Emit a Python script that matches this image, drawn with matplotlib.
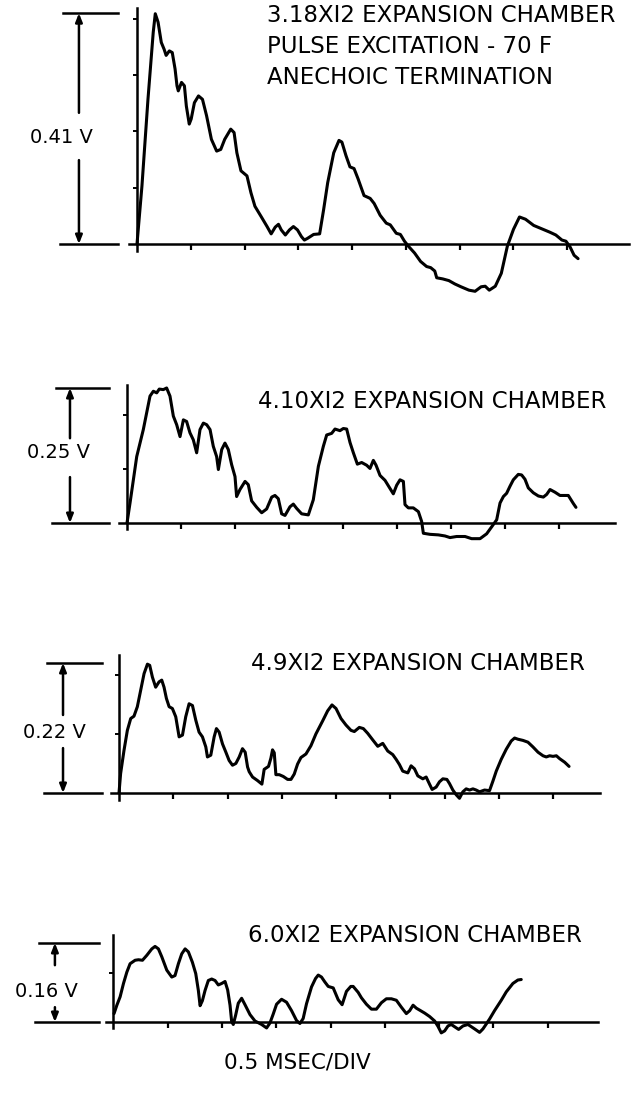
import matplotlib
matplotlib.use("Agg")
import matplotlib.pyplot as plt

# ---------------- data (time in ms, signal in V) ----------------
p1_t = [0.000, 0.046, 0.102, 0.151, 0.170, 0.196, 0.226, 0.252, 0.271, 0.301, 0.328, 0.354, 0.372, 0.384,
        0.414, 0.441, 0.459, 0.486, 0.504, 0.534, 0.572, 0.609, 0.647, 0.692, 0.741, 0.779, 0.816, 0.872,
        0.903, 0.929, 0.967, 1.023, 1.060, 1.097, 1.154, 1.210, 1.248, 1.286, 1.316, 1.342, 1.380, 1.418,
        1.455, 1.493, 1.530, 1.557, 1.586, 1.643, 1.699, 1.736, 1.774, 1.830, 1.879, 1.906, 1.944, 1.981,
        2.019, 2.056, 2.112, 2.169, 2.206, 2.262, 2.319, 2.356, 2.412, 2.450, 2.488, 2.525, 2.582, 2.638,
        2.694, 2.732, 2.770, 2.788, 2.844, 2.901, 2.957, 3.014, 3.088, 3.145, 3.201, 3.239, 3.277, 3.333,
        3.389, 3.445, 3.502, 3.558, 3.614, 3.690, 3.765, 3.840, 3.896, 3.953, 3.990, 4.028, 4.066, 4.103]
p1_v = [0.000, 0.103, 0.257, 0.376, 0.409, 0.394, 0.358, 0.346, 0.335, 0.343, 0.340, 0.311, 0.281, 0.272,
        0.287, 0.281, 0.245, 0.213, 0.222, 0.251, 0.263, 0.257, 0.228, 0.186, 0.165, 0.168, 0.186, 0.204,
        0.198, 0.162, 0.130, 0.121, 0.091, 0.067, 0.049, 0.031, 0.018, 0.030, 0.035, 0.025, 0.016, 0.025,
        0.031, 0.025, 0.013, 0.007, 0.010, 0.017, 0.018, 0.061, 0.109, 0.162, 0.184, 0.181, 0.157, 0.137,
        0.134, 0.116, 0.086, 0.081, 0.072, 0.051, 0.037, 0.034, 0.019, 0.017, 0.005, -0.004, -0.016, -0.031,
        -0.040, -0.042, -0.048, -0.060, -0.062, -0.065, -0.071, -0.076, -0.082, -0.084, -0.076, -0.075, -0.082, -0.075,
        -0.052, -0.004, 0.026, 0.048, 0.044, 0.033, 0.027, 0.021, 0.016, 0.007, 0.005, -0.005, -0.020, -0.026]

p2_t = [0.000, 0.028, 0.090, 0.151, 0.213, 0.244, 0.275, 0.299, 0.336, 0.367, 0.398, 0.429, 0.460, 0.491,
        0.522, 0.552, 0.583, 0.614, 0.645, 0.676, 0.707, 0.738, 0.769, 0.799, 0.830, 0.846, 0.877, 0.907,
        0.938, 0.969, 1.000, 1.015, 1.046, 1.093, 1.123, 1.154, 1.201, 1.247, 1.293, 1.340, 1.370, 1.401,
        1.432, 1.463, 1.509, 1.540, 1.571, 1.617, 1.679, 1.725, 1.772, 1.818, 1.849, 1.895, 1.926, 1.972,
        2.003, 2.034, 2.065, 2.096, 2.133, 2.173, 2.219, 2.250, 2.281, 2.306, 2.343, 2.389, 2.435, 2.466,
        2.497, 2.528, 2.559, 2.574, 2.605, 2.651, 2.698, 2.728, 2.744, 2.806, 2.883, 2.944, 2.991, 3.052,
        3.130, 3.191, 3.269, 3.330, 3.377, 3.423, 3.454, 3.485, 3.515, 3.546, 3.577, 3.623, 3.654, 3.685,
        3.716, 3.762, 3.809, 3.855, 3.886, 3.917, 3.963, 4.009, 4.056, 4.086, 4.133, 4.157]
p2_v = [0.000, 0.037, 0.123, 0.173, 0.235, 0.244, 0.241, 0.248, 0.247, 0.250, 0.235, 0.198, 0.182, 0.160,
        0.191, 0.188, 0.167, 0.154, 0.130, 0.173, 0.185, 0.182, 0.173, 0.142, 0.123, 0.099, 0.136, 0.148,
        0.136, 0.108, 0.086, 0.049, 0.062, 0.077, 0.071, 0.041, 0.029, 0.019, 0.026, 0.048, 0.051, 0.045,
        0.017, 0.014, 0.030, 0.035, 0.027, 0.017, 0.015, 0.043, 0.105, 0.142, 0.163, 0.166, 0.174, 0.171,
        0.175, 0.174, 0.149, 0.130, 0.109, 0.112, 0.107, 0.101, 0.116, 0.107, 0.088, 0.079, 0.064, 0.054,
        0.070, 0.080, 0.077, 0.034, 0.028, 0.028, 0.021, 0.003, -0.019, -0.021, -0.022, -0.024, -0.027, -0.025,
        -0.025, -0.029, -0.029, -0.020, -0.007, 0.006, 0.037, 0.049, 0.055, 0.068, 0.080, 0.090, 0.089, 0.081,
        0.065, 0.056, 0.050, 0.048, 0.053, 0.062, 0.057, 0.051, 0.051, 0.051, 0.036, 0.029]

p3_t = [0.000, 0.015, 0.046, 0.077, 0.108, 0.138, 0.169, 0.200, 0.231, 0.262, 0.283, 0.308, 0.338, 0.369,
        0.394, 0.415, 0.437, 0.462, 0.492, 0.523, 0.554, 0.585, 0.615, 0.646, 0.677, 0.708, 0.738, 0.769,
        0.800, 0.815, 0.846, 0.877, 0.898, 0.923, 0.954, 0.985, 1.015, 1.046, 1.077, 1.108, 1.138, 1.163,
        1.185, 1.200, 1.231, 1.277, 1.317, 1.338, 1.378, 1.400, 1.415, 1.431, 1.446, 1.477, 1.514, 1.554,
        1.585, 1.615, 1.646, 1.677, 1.723, 1.769, 1.815, 1.877, 1.923, 1.963, 2.000, 2.046, 2.092, 2.138,
        2.169, 2.215, 2.252, 2.292, 2.338, 2.385, 2.431, 2.477, 2.523, 2.554, 2.585, 2.615, 2.662, 2.692,
        2.723, 2.754, 2.800, 2.831, 2.862, 2.886, 2.923, 2.954, 2.985, 3.022, 3.046, 3.077, 3.108, 3.138,
        3.169, 3.200, 3.231, 3.262, 3.292, 3.323, 3.369, 3.415, 3.446, 3.477, 3.523, 3.569, 3.615, 3.646,
        3.677, 3.723, 3.769, 3.815, 3.862, 3.908, 3.938, 3.969, 4.000, 4.031, 4.062, 4.108, 4.148]
p3_v = [0.000, 0.033, 0.072, 0.106, 0.126, 0.130, 0.146, 0.174, 0.202, 0.218, 0.216, 0.196, 0.179, 0.188,
        0.191, 0.179, 0.160, 0.146, 0.143, 0.129, 0.095, 0.098, 0.129, 0.151, 0.148, 0.123, 0.103, 0.095,
        0.078, 0.061, 0.064, 0.095, 0.109, 0.103, 0.083, 0.069, 0.055, 0.047, 0.050, 0.061, 0.075, 0.069,
        0.044, 0.036, 0.027, 0.021, 0.015, 0.040, 0.045, 0.059, 0.073, 0.068, 0.031, 0.031, 0.028, 0.023,
        0.023, 0.032, 0.049, 0.060, 0.066, 0.080, 0.100, 0.122, 0.139, 0.149, 0.143, 0.126, 0.115, 0.106,
        0.104, 0.111, 0.109, 0.101, 0.090, 0.079, 0.084, 0.071, 0.065, 0.057, 0.048, 0.037, 0.034, 0.046,
        0.041, 0.029, 0.024, 0.027, 0.015, 0.006, 0.010, 0.019, 0.024, 0.023, 0.016, 0.005, -0.003, -0.009,
        0.002, 0.007, 0.005, 0.007, 0.005, 0.002, 0.005, 0.004, 0.020, 0.037, 0.057, 0.074, 0.088, 0.093,
        0.091, 0.089, 0.086, 0.078, 0.069, 0.063, 0.061, 0.063, 0.062, 0.063, 0.058, 0.052, 0.045]

p4_t = [0.005, 0.031, 0.061, 0.092, 0.123, 0.153, 0.199, 0.230, 0.267, 0.307, 0.353, 0.383, 0.414, 0.445,
        0.491, 0.537, 0.567, 0.598, 0.629, 0.660, 0.690, 0.727, 0.758, 0.782, 0.798, 0.819, 0.844, 0.874,
        0.905, 0.936, 0.966, 0.997, 1.028, 1.052, 1.074, 1.089, 1.104, 1.126, 1.150, 1.181, 1.212, 1.258,
        1.304, 1.365, 1.411, 1.442, 1.472, 1.503, 1.549, 1.595, 1.641, 1.687, 1.718, 1.748, 1.779, 1.825,
        1.862, 1.887, 1.917, 1.948, 1.979, 2.025, 2.071, 2.107, 2.147, 2.187, 2.209, 2.255, 2.285, 2.331,
        2.377, 2.423, 2.469, 2.515, 2.561, 2.607, 2.653, 2.699, 2.730, 2.761, 2.791, 2.822, 2.868, 2.914,
        2.960, 2.991, 3.021, 3.052, 3.083, 3.113, 3.160, 3.181, 3.221, 3.267, 3.328, 3.374, 3.405, 3.436,
        3.466, 3.512, 3.574, 3.620, 3.681, 3.727, 3.758]
p4_v = [0.017, 0.034, 0.051, 0.078, 0.101, 0.118, 0.125, 0.126, 0.125, 0.135, 0.148, 0.153, 0.148, 0.132,
        0.105, 0.091, 0.094, 0.118, 0.138, 0.148, 0.142, 0.121, 0.098, 0.064, 0.033, 0.043, 0.064, 0.084,
        0.087, 0.084, 0.075, 0.078, 0.082, 0.065, 0.034, 0.001, -0.005, 0.014, 0.038, 0.048, 0.035, 0.015,
        0.002, -0.005, -0.012, -0.002, 0.016, 0.036, 0.046, 0.040, 0.023, 0.003, -0.003, 0.007, 0.037, 0.071,
        0.088, 0.095, 0.091, 0.081, 0.072, 0.069, 0.045, 0.035, 0.062, 0.072, 0.072, 0.060, 0.049, 0.036,
        0.026, 0.026, 0.039, 0.047, 0.047, 0.044, 0.030, 0.017, 0.023, 0.034, 0.028, 0.024, 0.018, 0.011,
        0.002, -0.009, -0.022, -0.018, -0.008, -0.005, -0.012, -0.015, -0.008, -0.005, -0.014, -0.021, -0.014, -0.004,
        0.006, 0.023, 0.044, 0.061, 0.078, 0.085, 0.086]

titles = [["3.18XI2 EXPANSION CHAMBER", "PULSE EXCITATION - 70 F", "ANECHOIC TERMINATION"],
          ["4.10XI2 EXPANSION CHAMBER"],
          ["4.9XI2 EXPANSION CHAMBER"],
          ["6.0XI2 EXPANSION CHAMBER"]]
amplitudes = [0.41, 0.25, 0.22, 0.16]
amp_labels = ["0.41 V", "0.25 V", "0.22 V", "0.16 V"]
x_tick_ms = [0.5, 1.0, 1.5, 2.0, 2.5, 3.0, 3.5, 4.0]
time_label = "0.5 MSEC/DIV"

# ---------------- layout (pixels) ----------------
W, H = 633, 1093
fig = plt.figure(figsize=(W / 100, H / 100), dpi=100)
FONT = "DejaVu Sans"

panels = [
    dict(t=p1_t, v=p1_v, ox=137, oy=244, sx=107.5, sy=563, ylo=-0.13, yhi=0.44, top=0.419, bend=4.58,
         ml=-0.69, mr=-0.18, ax_x=-0.54, lx=-0.707, lv=0.19, up=0.233, dn=0.149, tx=267, ty=16,
         yt=[0.1, 0.2, 0.3, 0.4]),
    dict(t=p2_t, v=p2_v, ox=127, oy=523, sx=108, sy=540, ylo=-0.06, yhi=0.27, top=0.255, bend=4.52,
         ml=-0.66, mr=-0.17, ax_x=-0.528, lx=-0.63, lv=0.13, up=0.157, dn=0.085, tx=258, ty=402,
         yt=[0.1, 0.2]),
    dict(t=p3_t, v=p3_v, ox=119, oy=793, sx=108.5, sy=591, ylo=-0.05, yhi=0.25, top=0.233, bend=4.43,
         ml=-0.66, mr=-0.16, ax_x=-0.516, lx=-0.595, lv=0.103, up=0.132, dn=0.076, tx=251.5, ty=663,
         yt=[0.1, 0.2]),
    dict(t=p4_t, v=p4_v, ox=113.5, oy=1022, sx=108.5, sy=494, ylo=-0.06, yhi=0.19, top=0.176, bend=4.47,
         ml=-0.69, mr=-0.134, ax_x=-0.54, lx=-0.618, lv=0.061, up=0.115, dn=0.03, tx=247.5, ty=935,
         yt=[0.1]),
]

XLO, XHI = -1.05, 4.7
for i, p in enumerate(panels):
    top_px = p["oy"] - p["yhi"] * p["sy"]
    bot_px = p["oy"] - p["ylo"] * p["sy"]
    left_px = p["ox"] + XLO * p["sx"]
    ax = fig.add_axes([left_px / W, 1 - bot_px / H, (XHI - XLO) * p["sx"] / W, (bot_px - top_px) / H])
    ax.set_xlim(XLO, XHI)
    ax.set_ylim(p["ylo"], p["yhi"])
    ax.patch.set_alpha(0)
    for s in ("top", "right"):
        ax.spines[s].set_visible(False)
    ax.spines["left"].set_position(("data", 0))
    ax.spines["bottom"].set_position(("data", 0))
    ax.spines["left"].set_bounds(-0.012, p["top"])
    ax.spines["bottom"].set_bounds(-0.07, p["bend"])
    for s in ("left", "bottom"):
        ax.spines[s].set_linewidth(1.8)
        ax.spines[s].set_color("black")
    ax.set_xticks(x_tick_ms)
    ax.set_yticks(p["yt"])
    ax.tick_params(axis="x", direction="out", length=4.5, width=1.6, labelbottom=False)
    ax.tick_params(axis="y", direction="out", length=3, width=1.4, labelleft=False)

    ax.plot(p["t"], p["v"], color="black", lw=2.2, solid_joinstyle="round", solid_capstyle="round")

    # amplitude marker
    amp = amplitudes[i]
    ax.plot([p["ml"], p["mr"]], [amp, amp], color="black", lw=1.8, clip_on=False)
    ax.plot([p["ml"] - 0.03, p["mr"]], [0, 0], color="black", lw=1.8, clip_on=False)
    ax.annotate("", xy=(p["ax_x"], amp), xytext=(p["ax_x"], p["up"]),
                arrowprops=dict(arrowstyle="-|>,head_length=0.5,head_width=0.2", lw=1.8, color="black",
                                shrinkA=0, shrinkB=0), annotation_clip=False)
    ax.annotate("", xy=(p["ax_x"], 0), xytext=(p["ax_x"], p["dn"]),
                arrowprops=dict(arrowstyle="-|>,head_length=0.5,head_width=0.2", lw=1.8, color="black",
                                shrinkA=0, shrinkB=0), annotation_clip=False)
    ax.text(p["lx"], p["lv"], amp_labels[i], ha="center", va="center", fontsize=14,
            family=FONT, clip_on=False)

    for j, line in enumerate(titles[i]):
        fig.text(p["tx"] / W, 1 - (p["ty"] + 30.5 * j) / H, line, ha="left", va="center",
                 fontsize=16.5, family=FONT)

fig.text(297 / W, 1 - 1063 / H, time_label, ha="center", va="center", fontsize=15.5, family=FONT)

fig.savefig("out.png", dpi=100, facecolor="white")
